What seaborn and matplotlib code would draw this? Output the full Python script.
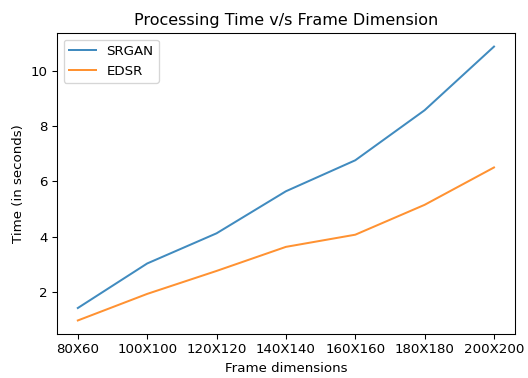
import pandas as pd
import matplotlib
matplotlib.use("Agg")
import matplotlib.pyplot as plt
import seaborn as sns

frames = ["80X60", "100X100", "120X120", "140X140", "160X160", "180X180", "200X200"]
srgan = [1.42, 3.03, 4.12, 5.64, 6.76, 8.57, 10.87]
edsr = [0.97, 1.93, 2.76, 3.63, 4.07, 5.15, 6.50]

df = pd.DataFrame({
    "frame": frames * 2,
    "time": srgan + edsr,
    "model": ["SRGAN"] * len(frames) + ["EDSR"] * len(frames),
})

fig = plt.figure(figsize=(528 / 96, 378 / 96), dpi=96)
ax = fig.add_axes([0.108, 0.116, 0.867, 0.797])

sns.lineplot(data=df, x="frame", y="time", hue="model",
             palette=["#1f77b4", "#ff7f0e"], linewidth=1.5, alpha=0.85,
             sort=False, ax=ax)

ax.margins(x=0.05, y=0.05)
ax.set_title("Processing Time v/s Frame Dimension", fontsize=12)
ax.set_xlabel("Frame dimensions", fontsize=10)
ax.set_ylabel("Time (in seconds)", fontsize=10)
ax.tick_params(labelsize=10)
ax.set_yticks([2, 4, 6, 8, 10])
ax.legend(loc="upper left", title=None, fontsize=10)

fig.savefig("out.png", dpi=96)
